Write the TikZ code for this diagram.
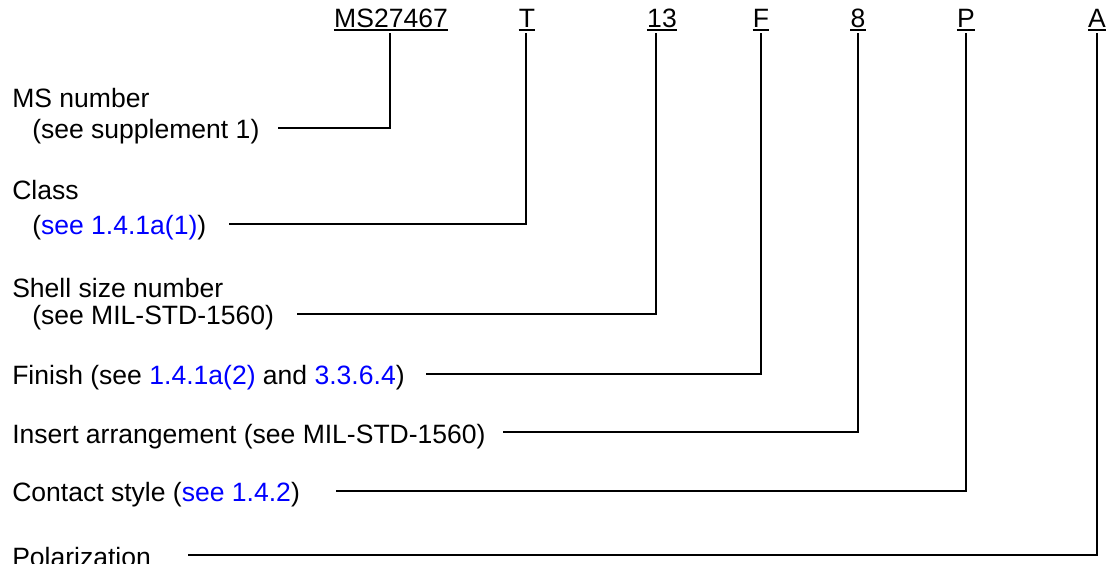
\documentclass[tikz,border=0pt]{standalone}
\usepackage{fontspec}
\setmainfont{Liberation Sans}
\definecolor{refblue}{RGB}{0,0,255}
\begin{document}
\begin{tikzpicture}[x=0.75pt,y=-0.75pt,
  lbl/.style={font=\fontsize{19.9pt}{24pt}\selectfont, inner sep=0pt, anchor=base west},
  code/.style={font=\fontsize{19.9pt}{24pt}\selectfont, inner sep=0pt, anchor=base},
  conn/.style={line width=1.5pt},
  uline/.style={line width=1.2pt}]
\useasboundingbox (0,0) rectangle (1111,564);
\fill[white] (0,0) rectangle (1111,564);

% top code letters
\node[code] (cMS) at (391,27) {MS27467};
\node[code] (cT)  at (527,27) {T};
\node[code] (c13) at (662,27) {13};
\node[code] (cF)  at (761,27) {F};
\node[code] (c8)  at (858,27) {8};
\node[code] (cP)  at (966,27) {P};
\node[code] (cA)  at (1097,27) {A};
\foreach \n in {cMS,cT,c13,cF,c8,cP,cA}
  \draw[uline] ([yshift=-2.4pt]\n.base west) -- ([yshift=-2.4pt]\n.base east);

% tops of the vertical leaders
\coordinate (vMS) at (390,33);
\coordinate (vT)  at (526,33);
\coordinate (v13) at (656,33);
\coordinate (vF)  at (761,33);
\coordinate (v8)  at (858,33);
\coordinate (vP)  at (966,33);
\coordinate (vA)  at (1097,33);

% left labels
\node[lbl] (msA) at (12,107) {MS number};
\node[lbl] (msB) at (32,138) {(see supplement 1)};
\coordinate (msS) at (278,128);
\draw[conn] (msS) -| (vMS);

\node[lbl] (clA) at (12,199) {Class};
\node[lbl] (clB) at (32,234) {(\textcolor{refblue}{see 1.4.1a(1)})};
\coordinate (clS) at (229,224);
\draw[conn] (clS) -| (vT);

\node[lbl] (shA) at (12,297) {Shell size number};
\node[lbl] (shB) at (32,324) {(see MIL-STD-1560)};
\coordinate (shS) at (297,314);
\draw[conn] (shS) -| (v13);

\node[lbl] (fi) at (12,384) {Finish (see \textcolor{refblue}{1.4.1a(2)} and \textcolor{refblue}{3.3.6.4})};
\coordinate (fiS) at (426,374);
\draw[conn] (fiS) -| (vF);

\node[lbl] (in) at (12,443) {Insert arrangement (see MIL-STD-1560)};
\coordinate (inS) at (503,432);
\draw[conn] (inS) -| (v8);

\node[lbl] (co) at (12,501) {Contact style (\textcolor{refblue}{see 1.4.2})};
\coordinate (coS) at (336,491);
\draw[conn] (coS) -| (vP);

\node[lbl] (po) at (12,566) {Polarization};
\coordinate (poS) at (188,555);
\draw[conn] (poS) -| (vA);
\end{tikzpicture}
\end{document}
